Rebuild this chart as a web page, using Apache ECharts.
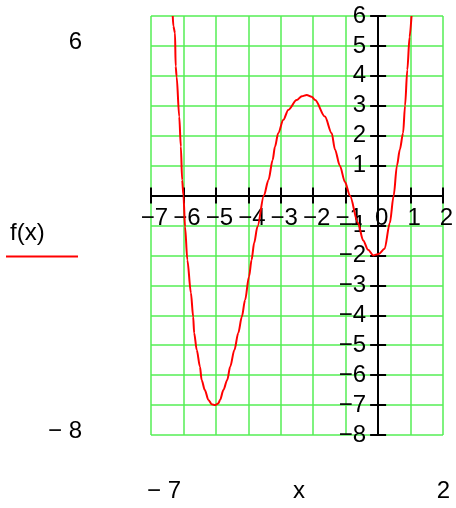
<!DOCTYPE html>
<html>
<head>
<meta charset="utf-8">
<script src="https://cdn.jsdelivr.net/npm/echarts@6/dist/echarts.min.js"></script>
<style>
  html, body { margin: 0; padding: 0; background: #fff; }
  #main { width: 456px; height: 508px; }
</style>
</head>
<body>
<div id="main"></div>
<script>
// x range / y range of the plot
var xMin = -7, xMax = 2;
var yMin = -8, yMax = 6;

// f(x)
var xs = [-6.33, -6.31, -6.26, -6.24, -6.21, -6.13, -6.08, -6.04, -6.00, -5.95,
          -5.88, -5.77, -5.70, -5.67, -5.59, -5.49, -5.44, -5.34, -5.23, -5.13,
          -5.03, -4.93, -4.87, -4.77, -4.65, -4.56, -4.43, -4.31, -4.20, -4.10,
          -3.98, -3.90, -3.82, -3.72, -3.52, -3.38, -3.25, -3.18, -3.08, -2.92,
          -2.77, -2.51, -2.35, -2.20, -2.05, -1.94, -1.64, -1.43, -1.33, -1.18,
          -1.02, -0.87, -0.62, -0.46, -0.31, -0.15, 0.02, 0.20, 0.36, 0.48,
          0.58, 0.67, 0.77, 0.83, 0.90, 0.97, 1.03];
var ys = [6.0, 5.66, 5.43, 4.32, 3.98, 2.64, 1.64, 0.52, 0.0, -1.04,
          -2.15, -3.25, -4.05, -4.59, -5.16, -5.72, -6.16, -6.50, -6.83, -6.97,
          -7.0, -6.95, -6.83, -6.50, -6.16, -5.72, -5.16, -4.59, -4.05, -3.49,
          -2.71, -2.15, -1.58, -1.04, 0.0, 0.52, 1.19, 1.63, 2.08, 2.53,
          2.86, 3.19, 3.32, 3.36, 3.30, 3.19, 2.64, 2.08, 1.54, 1.0,
          0.45, 0.0, -0.92, -1.50, -1.81, -2.0, -1.95, -1.78, -0.92, 0.0,
          1.0, 1.54, 2.09, 3.0, 4.2, 5.3, 6.0];

var fontFam = '"Liberation Sans", Arial, sans-serif';
var fs = 24;

function minus(v) {
  return String(v).replace('-', '\u2212');
}

var pts = xs.map(function (x, i) { return [x, ys[i]]; });

// grid box
var gl = 151, gt = 16, gw = 292, gh = 419;
// move the axes onto x = 0 / y = 0
var yOff = -(0 - xMin) / (xMax - xMin) * gw;
var xOff = -(0 - yMin) / (yMax - yMin) * gh;

var chart = echarts.init(document.getElementById('main'));

var gridGreen = '#55ee55';
var axisLine = { show: true, onZero: false, lineStyle: { color: '#000', width: 2 } };

var option = {
  backgroundColor: '#ffffff',
  animation: false,
  grid: { left: gl, top: gt, width: gw, height: gh, outerBoundsMode: 'none' },
  xAxis: [
    {
      type: 'value', min: xMin, max: xMax, interval: 1, position: 'bottom', offset: xOff,
      axisLine: axisLine,
      axisTick: { show: true, length: 8, lineStyle: { color: '#000', width: 2 } },
      axisLabel: {
        show: true, margin: 11, color: '#000', fontSize: fs, fontFamily: fontFam,
        showMinLabel: true, showMaxLabel: true, padding: [0, 0, 0, 7],
        formatter: function (v) { return minus(v); }
      },
      splitLine: { show: true, lineStyle: { color: gridGreen, width: 1.5 } }
    },
    {
      type: 'value', min: xMin, max: xMax, interval: 1, position: 'bottom', offset: xOff,
      axisLine: axisLine,
      axisTick: { show: true, inside: true, length: 8, lineStyle: { color: '#000', width: 2 } },
      axisLabel: { show: false },
      splitLine: { show: false }
    }
  ],
  yAxis: [
    {
      type: 'value', min: yMin, max: yMax, interval: 1, position: 'left', offset: yOff,
      axisLine: axisLine,
      axisTick: { show: true, length: 8, lineStyle: { color: '#000', width: 2 } },
      axisLabel: {
        show: true, margin: 12, color: '#000', fontSize: fs, fontFamily: fontFam,
        showMinLabel: true, showMaxLabel: true,
        formatter: function (v) { return v === 0 ? '' : minus(v); }
      },
      splitLine: { show: true, lineStyle: { color: gridGreen, width: 1.5 } }
    },
    {
      type: 'value', min: yMin, max: yMax, interval: 1, position: 'left', offset: yOff,
      axisLine: axisLine,
      axisTick: { show: true, inside: true, length: 8, lineStyle: { color: '#000', width: 2 } },
      axisLabel: { show: false },
      splitLine: { show: false }
    }
  ],
  series: [
    {
      name: 'f(x)',
      type: 'line',
      xAxisIndex: 0,
      yAxisIndex: 0,
      data: pts,
      showSymbol: false,
      smooth: 0.3,
      smoothMonotone: 'x',
      clip: true,
      lineStyle: { color: '#ff0000', width: 2 },
      z: 5
    }
  ],
  graphic: [
    { type: 'text', x: 82, y: 42,
      style: { text: String(yMax), fill: '#000', font: fs + 'px ' + fontFam, align: 'right', verticalAlign: 'middle' } },
    { type: 'text', x: 82, y: 431,
      style: { text: '\u2212 ' + Math.abs(yMin), fill: '#000', font: fs + 'px ' + fontFam, align: 'right', verticalAlign: 'middle' } },
    { type: 'text', x: 10, y: 233,
      style: { text: 'f(x)', fill: '#000', font: fs + 'px ' + fontFam, align: 'left', verticalAlign: 'middle' } },
    { type: 'line', shape: { x1: 6, y1: 256.5, x2: 78, y2: 256.5 },
      style: { stroke: '#ff0000', lineWidth: 2 } },
    { type: 'text', x: 147, y: 491,
      style: { text: '\u2212 ' + Math.abs(xMin), fill: '#000', font: fs + 'px ' + fontFam, align: 'left', verticalAlign: 'middle' } },
    { type: 'text', x: 299, y: 491,
      style: { text: 'x', fill: '#000', font: fs + 'px ' + fontFam, align: 'center', verticalAlign: 'middle' } },
    { type: 'text', x: 450, y: 491,
      style: { text: String(xMax), fill: '#000', font: fs + 'px ' + fontFam, align: 'right', verticalAlign: 'middle' } }
  ]
};

chart.setOption(option);
</script>
</body>
</html>
